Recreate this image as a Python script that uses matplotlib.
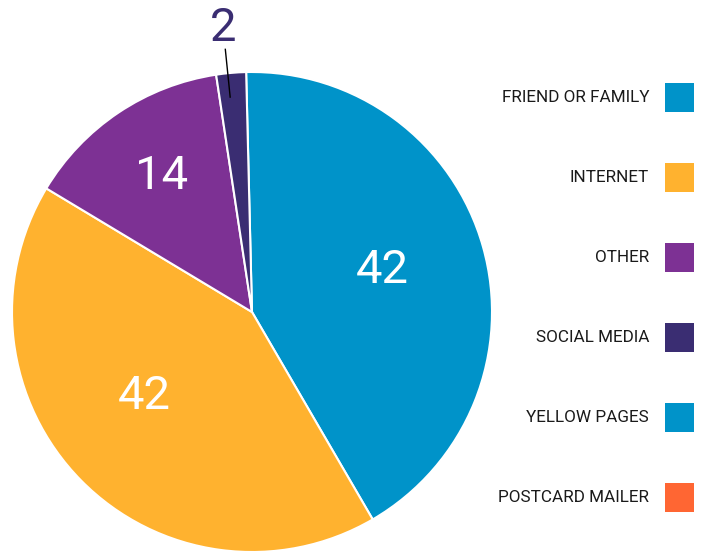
import matplotlib.pyplot as plt
from matplotlib.patches import Rectangle
import numpy as np

plt.rcParams['font.family'] = ['Roboto', 'DejaVu Sans']

# data
categories = ['FRIEND OR FAMILY', 'INTERNET', 'OTHER', 'SOCIAL MEDIA',
              'YELLOW PAGES', 'POSTCARD MAILER']
values = [42, 42, 14, 2, 0, 0]
colors = ['#0093c9', '#ffb22f', '#7d3194', '#3a2d72', '#0093c9', '#ff6633']

fig = plt.figure(figsize=(7.04, 5.53), dpi=100)
ax = fig.add_axes([0, 0, 1, 1])

cx, cy, R = 252, 241, 240

# only draw non-empty slices
shown = [i for i, v in enumerate(values) if v > 0]
wedges, _ = ax.pie([values[i] for i in shown],
                   colors=[colors[i] for i in shown],
                   center=(cx, cy), radius=R, startangle=91.4,
                   counterclock=False, frame=True,
                   wedgeprops=dict(edgecolor='white', linewidth=1.5))
ax.set_xlim(0, 704)
ax.set_ylim(0, 553)
ax.set_aspect('equal')
ax.axis('off')

# value labels inside the big slices
label_dist = [0.57, 0.57, 0.68]
label_shift = [2, -6.5, 0]
for w, i, d, s in zip(wedges, shown, label_dist, label_shift):
    a = np.deg2rad((w.theta1 + w.theta2) / 2 + s)
    ax.text(cx + d * R * np.cos(a), cy + d * R * np.sin(a), str(values[i]),
            color='white', fontsize=34, ha='center', va='center')

# small slice: label outside with leader line
w = wedges[3]
a = np.deg2rad((w.theta1 + w.theta2) / 2 + 0.8)
ax.plot([cx + 0.9 * R * np.cos(a), cx + 1.1 * R * np.cos(a)],
        [cy + 0.9 * R * np.sin(a), cy + 1.1 * R * np.sin(a)],
        color='black', lw=1)
ax.text(cx + 1.19 * R * np.cos(a), cy + 1.19 * R * np.sin(a), str(values[3]),
        color=colors[3], fontsize=34, ha='center', va='center')

# legend on the right: text then colour square
box = 29
for k, (name, c) in enumerate(zip(categories, colors)):
    y = 553 - 97 - 80 * k
    ax.add_patch(Rectangle((665, y - box / 2), box, box, facecolor=c,
                           edgecolor='none'))
    ax.text(649, y, name, fontsize=12.3, ha='right', va='center',
            color='#1a1a1a')

fig.savefig('out.png', dpi=100)
